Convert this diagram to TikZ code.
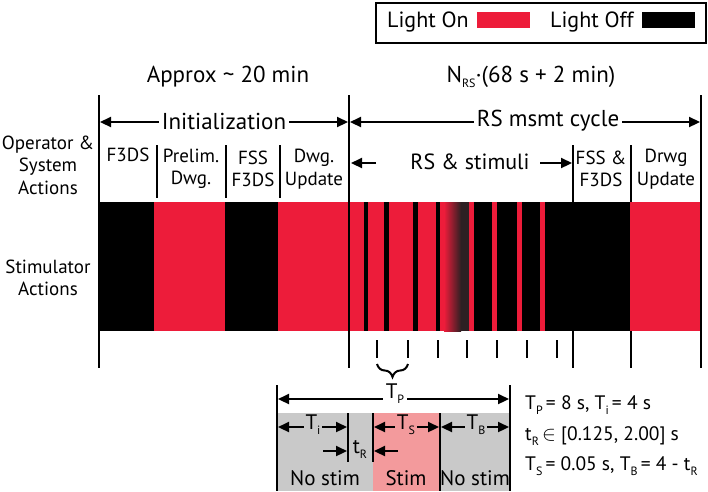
\documentclass[tikz,border=0pt]{standalone}
\usepackage{fontspec}
\setmainfont{PT Sans}
\usetikzlibrary{arrows.meta,decorations.pathreplacing}
\definecolor{lred}{RGB}{237,28,58}
\definecolor{lpink}{RGB}{243,154,156}
\definecolor{lgray}{RGB}{201,201,201}
\definecolor{ldark}{RGB}{45,32,35}
\newcommand\lowsub[1]{\raisebox{-5pt}{\fontsize{12}{12}\selectfont #1}}
\tikzset{
  fhead/.style={font=\fontsize{23}{27}\selectfont, inner sep=1pt},
  fkey/.style={font=\fontsize{22}{26}\selectfont, inner sep=1pt},
  fbig/.style={font=\fontsize{21}{25}\selectfont, inner sep=1pt},
  fpar/.style={font=\fontsize{19.5}{23}\selectfont, inner sep=1pt},
  fmid/.style={font=\fontsize{19}{22.5}\selectfont, align=center, inner sep=1pt},
  vline/.style={line width=2.4pt},
  tickline/.style={line width=2.2pt},
  ltip/.tip={Triangle[length=11pt,width=10pt]},
  dimline/.style={line width=2.2pt, ltip-ltip},
  onearrow/.style={line width=2.2pt, -ltip},
  gapfill/.style={fill=white, inner sep=3pt},
  keybox/.style={minimum width=53pt, minimum height=16pt, inner sep=0pt},
}
\begin{document}
\begin{tikzpicture}[x=1pt,y=-1pt]
\useasboundingbox (0,0) rectangle (708,491);
% ---------------- legend
\node[draw, line width=1.8pt, minimum width=330pt, minimum height=40pt, anchor=north west, inner sep=0pt] (legend) at (375,2) {};
\node[fkey, anchor=west] (lon) at (386,22) {Light On};
\node[keybox, fill=lred] (onkey) at (503.5,20) {};
\node[fkey, anchor=west] (loff) at (549,22) {Light Off};
\node[keybox, fill=black] (offkey) at (668.5,20) {};
% ---------------- headings
\node[fhead] (approx) at (228,77) {Approx \textasciitilde{} 20 min};
\node[fhead] (nrs) at (531,77) {N\lowsub{RS}·(68 s + 2 min)};
\node[fmid] (oper) at (48,165) {Operator \&\\System\\Actions};
\node[fmid] (stim) at (48,278) {Stimulator\\Actions};
% ---------------- hidden sub lines (behind the bar)
\coordinate (s4t) at (573,145); \coordinate (s4b) at (573,368);
\coordinate (s5t) at (631,145); \coordinate (s5b) at (631,368);
\draw[tickline] (s4t) -- (s4b);
\draw[tickline] (s5t) -- (s5b);
% ---------------- stimulator bar
\fill[black] (98,202) rectangle (154,331);
\fill[lred] (154,202) rectangle (225,331);
\fill[black] (225,202) rectangle (278,331);
\fill[lred] (278,202) rectangle (702,331);
\foreach \a/\b in {364/368,384/389,413/418,436/440,460/469,474/492,497/517,522/540,545/630}
  \fill[black] (\a,202) rectangle (\b,331);
\fill[ldark] (460,202) rectangle (469,331);
\shade[left color=lred, right color=ldark] (444,202) rectangle (461,331);
% ---------------- main vertical lines
\coordinate (v0t) at (99,95);  \coordinate (v0b) at (99,368);
\coordinate (v1t) at (349,95); \coordinate (v1b) at (349,368);
\coordinate (v2t) at (701,95); \coordinate (v2b) at (701,368);
\draw[vline] (v0t) -- (v0b);
\draw[vline] (v1t) -- (v1b);
\draw[vline] (v2t) -- (v2b);
% initialization sub lines
\foreach \x/\n in {157/1,226/2,280/3}{
  \coordinate (s\n t) at (\x,145); \coordinate (s\n b) at (\x,198);
  \draw[tickline] (s\n t) -- (s\n b);
}
% ---------------- span arrows
\coordinate (i0) at (100,122); \coordinate (i1) at (348,122);
\coordinate (r0) at (350,122); \coordinate (r1) at (700,122);
\draw[dimline] (i0) -- (i1);
\draw[dimline] (r0) -- (r1);
\node[fhead, gapfill] (init) at (224,121) {Initialization};
\node[fhead, gapfill] (rscyc) at (548,121) {RS msmt cycle};
% ---------------- action labels
\node[fmid, anchor=north] (f3ds) at (128,147) {F3DS};
\node[fmid] (prelim) at (191,169) {Prelim.\\Dwg.};
\node[fmid] (fss) at (253,169) {FSS\\F3DS};
\node[fmid] (dwg) at (314,169) {Dwg.\\Update};
\node[fmid] (fss2) at (601,169) {FSS \&\\F3DS};
\node[fmid] (drwg) at (666,169) {Drwg\\Update};
\node[fkey] (rsstim) at (470,162) {RS \& stimuli};
\coordinate (ra0) at (376,163); \coordinate (ra1) at (351,163);
\coordinate (rb0) at (540,163); \coordinate (rb1) at (572,163);
\draw[onearrow] (ra0) -- (ra1);
\draw[onearrow] (rb0) -- (rb1);
% ---------------- period ticks
\foreach \x/\n in {377/1,408/2,438/3,467/4,497/5,527/6,557/7}{
  \coordinate (k\n t) at (\x,340); \coordinate (k\n b) at (\x,358);
  \draw[tickline] (k\n t) -- (k\n b);
}
\coordinate (br0) at (408,364); \coordinate (br1) at (377,364);
\draw[line width=2pt, decorate, decoration={brace, amplitude=13pt}] (br0) -- (br1);
% ---------------- period detail
\coordinate (p0t) at (277,385); \coordinate (p0b) at (277,491);
\coordinate (p1t) at (510,385); \coordinate (p1b) at (510,491);
\fill[lgray] (277,413) rectangle (373,491);
\fill[lpink] (373,413) rectangle (440,491);
\fill[lgray] (440,413) rectangle (510,491);
\draw[vline] (p0t) -- (p0b);
\draw[vline] (p1t) -- (p1b);
\coordinate (q0t) at (440,413); \coordinate (q0b) at (440,491);
\coordinate (q1t) at (348,413); \coordinate (q1b) at (348,462);
\coordinate (q2t) at (373,413); \coordinate (q2b) at (373,462);
\draw[vline] (q0t) -- (q0b);
\draw[vline] (q1t) -- (q1b);
\draw[vline] (q2t) -- (q2b);
\coordinate (tp0) at (278,399); \coordinate (tp1) at (509,399);
\draw[dimline] (tp0) -- (tp1);
\node[fbig, gapfill] (tp) at (395,394) {T\lowsub{P}};
\coordinate (ti0) at (278,427); \coordinate (ti1) at (347,427);
\coordinate (ts0) at (374,427); \coordinate (ts1) at (439,427);
\coordinate (tb0) at (441,427); \coordinate (tb1) at (509,427);
\draw[dimline] (ti0) -- (ti1);
\draw[dimline] (ts0) -- (ts1);
\draw[dimline] (tb0) -- (tb1);
\node[fbig, fill=lgray, inner sep=2pt] (ti) at (313,425) {T\lowsub{i}};
\node[fbig, fill=lpink, inner sep=2pt] (ts) at (406,425) {T\lowsub{S}};
\node[fbig, fill=lgray, inner sep=2pt] (tb) at (476,425) {T\lowsub{B}};
\coordinate (tr0) at (323,451); \coordinate (tr1) at (347,451);
\coordinate (tr2) at (398,451); \coordinate (tr3) at (374,451);
\draw[onearrow] (tr0) -- (tr1);
\draw[onearrow] (tr2) -- (tr3);
\node[fbig] (tr) at (360,449) {t\lowsub{R}};
\node[fbig] (ns1) at (325,478) {No stim};
\node[fbig] (sti) at (406,478) {Stim};
\node[fbig] (ns2) at (475,478) {No stim};
% ---------------- parameters
\node[fpar, anchor=west] (par1) at (524,405) {T\lowsub{P}\,= 8 s, T\lowsub{i}\,= 4 s};
\node[fpar, anchor=west] (par2) at (524,436) {t\lowsub{R}\,$\in$ [0.125, 2.00] s};
\node[fpar, anchor=west] (par3) at (524,466) {T\lowsub{S}\,= 0.05 s, T\lowsub{B}\,= 4 - t\lowsub{R}};
\end{tikzpicture}
\end{document}
